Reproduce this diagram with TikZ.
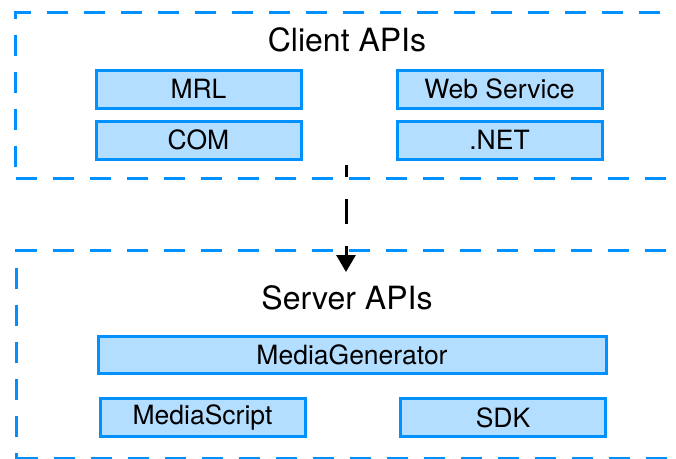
\documentclass[tikz,border=0pt]{standalone}
\usepackage{fontspec}
\setmainfont{TeX Gyre Heros}
\usepackage{tikz}
\usetikzlibrary{arrows.meta}

\definecolor{apiblue}{RGB}{0,145,255}
\definecolor{apifill}{RGB}{180,222,255}

\begin{document}
\begin{tikzpicture}[x=1pt,y=-1pt,>={Triangle[length=17pt,width=19pt]}]
	\tikzstyle{group}=[draw=apiblue,line width=3.3pt,dash pattern=on 21pt off 16pt,rectangle,inner sep=0pt,anchor=north west]
	\tikzstyle{api}=[minimum height=38pt,minimum width=205pt,draw=apiblue,fill=apifill,line width=3pt,rectangle,inner sep=0pt,font=\fontsize{26.5pt}{26.5pt}\selectfont]
	\tikzstyle{title}=[font=\fontsize{32pt}{32pt}\selectfont]

	\useasboundingbox (0,0) rectangle (676,458);
	\clip (0,0) rectangle (676,458);

	% client side
	\node[group,minimum width=720pt,minimum height=166pt] (CL) at (14,11) {};
	\node[title] (CLT) at (347,40) {Client APIs};
	\node[api] (MRL) at (198.5,89) {MRL};
	\node[api] (COM) at (198.5,140) {COM};
	\node[api] (WS) at (499.5,89) {Web Service};
	\node[api] (NET) at (499.5,140) {.NET};

	% server side
	\node[group,minimum width=720pt,minimum height=208pt] (SV) at (15,249) {};
	\node[title] (SVT) at (347,298) {Server APIs};
	\node[api,minimum width=508pt,minimum height=37pt] (MG) at (352,354.5) {MediaGenerator};
	\node[api] (MS) at (202.5,417.5) {MediaScript};
	\node[api] (SDK) at (503,417.5) {SDK};

	\coordinate (AS) at (346,165);
	\coordinate (AE) at (346,272);
	\draw[->,line width=3pt,dash pattern=on 25pt off 22pt,dash phase=13pt] (AS) -- (AE);
\end{tikzpicture}
\end{document}
